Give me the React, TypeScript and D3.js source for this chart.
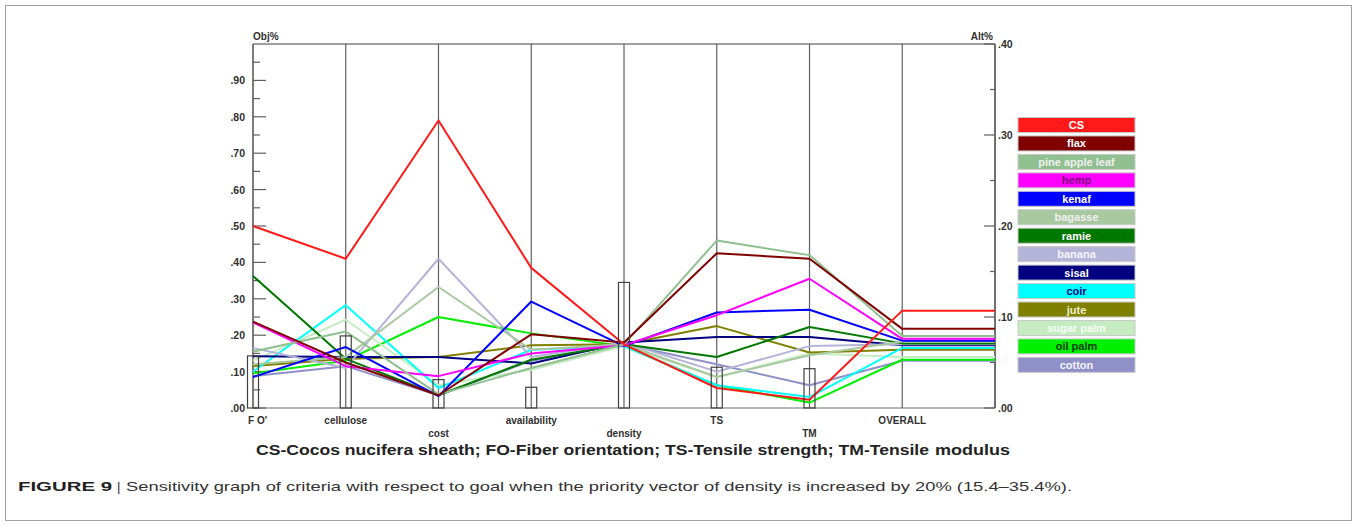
import React from "react";
import * as d3 from "d3";

const criteria = ["F O'", "cellulose", "cost", "availability", "density", "TS", "TM", "OVERALL"];
const criteriaLow = [false, false, true, false, true, false, true, false];
const priorities = [0.143, 0.198, 0.078, 0.057, 0.345, 0.112, 0.108];

const alternatives = ["CS", "flax", "pine apple leaf", "hemp", "kenaf", "bagasse", "ramie", "banana", "sisal", "coir", "jute", "sugar palm", "oil palm", "cotton"];
const lineColors = ["#ff1a1a", "#800000", "#90c090", "#ff00ff", "#0000ff", "#a8c8a0", "#007800", "#b4b4d8", "#000080", "#00ffff", "#808000", "#c4ecc0", "#00f000", "#9090c8"];
const textColors = ["#ffffff", "#ffffff", "#f0f0f0", "#800080", "#ffffff", "#f0f0f0", "#ffffff", "#f4f4ff", "#ffffff", "#000080", "#f0f0d0", "#f4fff4", "#004000", "#f4f4ff"];

// Alt% values (0 - 0.4) at FO, cellulose, cost, availability, density, TS, TM, OVERALL
const CS = [0.200, 0.164, 0.316, 0.154, 0.070, 0.022, 0.009, 0.107];
const flax = [0.095, 0.050, 0.014, 0.081, 0.072, 0.170, 0.164, 0.087];
const pineAppleLeaf = [0.062, 0.084, 0.015, 0.044, 0.070, 0.184, 0.168, 0.079];
const hemp = [0.094, 0.046, 0.035, 0.060, 0.069, 0.102, 0.142, 0.076];
const kenaf = [0.034, 0.067, 0.013, 0.117, 0.068, 0.105, 0.108, 0.074];
const bagasse = [0.048, 0.056, 0.133, 0.064, 0.070, 0.034, 0.058, 0.073];
const ramie = [0.145, 0.054, 0.014, 0.053, 0.070, 0.056, 0.089, 0.071];
const banana = [0.066, 0.044, 0.164, 0.056, 0.072, 0.040, 0.068, 0.070];
const sisal = [0.057, 0.056, 0.056, 0.049, 0.072, 0.078, 0.078, 0.069];
const coir = [0.040, 0.113, 0.022, 0.064, 0.068, 0.025, 0.012, 0.066];
const jute = [0.046, 0.054, 0.056, 0.069, 0.070, 0.090, 0.061, 0.064];
const sugarPalm = [0.052, 0.097, 0.025, 0.042, 0.068, 0.034, 0.060, 0.056];
const oilPalm = [0.038, 0.052, 0.100, 0.082, 0.068, 0.025, 0.006, 0.053];
const cotton = [0.035, 0.046, 0.014, 0.052, 0.070, 0.048, 0.025, 0.052];

const seriesValues = [CS, flax, pineAppleLeaf, hemp, kenaf, bagasse, ramie, banana, sisal, coir, jute, sugarPalm, oilPalm, cotton];

const objTicks = [0, 0.1, 0.2, 0.3, 0.4, 0.5, 0.6, 0.7, 0.8, 0.9];
const altTicks = [0, 0.1, 0.2, 0.3, 0.4];

const FONT = "'Liberation Sans', Arial, sans-serif";

export default function App() {
  const x = d3.scaleLinear().domain([0, 8]).range([253, 995]);
  const yObj = d3.scaleLinear().domain([0, 1]).range([408, 44]);
  const yAlt = d3.scaleLinear().domain([0, 0.4]).range([408, 44]);
  const fmt = (v: number) => d3.format(".2f")(v).replace(/^0/, "");

  const line = d3
    .line<[number, number]>()
    .x((d) => d[0])
    .y((d) => d[1]);

  const order = d3.range(alternatives.length).reverse();

  return (
    <svg width={1357} height={527} style={{ position: "absolute", left: 0, top: 0, background: "#fff" }} fontFamily={FONT}>
      <rect x={5.5} y={5.5} width={1346} height={515} fill="none" stroke="#a0a0a0" strokeWidth={1} />

      {/* frame */}
      <line x1={x(0)} x2={x(8)} y1={44} y2={44} stroke="#404040" strokeWidth={1.2} />
      <line x1={x(0)} x2={x(8)} y1={408} y2={408} stroke="#707070" strokeWidth={1.2} />

      {/* criterion verticals */}
      {criteria.map((c, i) => (
        <line key={c} x1={x(i)} x2={x(i)} y1={44} y2={408} stroke={i === 0 ? "#505050" : "#606060"} strokeWidth={i === 0 ? 1.5 : 1.2} />
      ))}
      <line x1={x(8)} x2={x(8)} y1={44} y2={408} stroke="#404040" strokeWidth={1.5} />

      {/* left axis ticks */}
      {d3.range(0, 20).map((k) => {
        const v = k * 0.05;
        const major = k % 2 === 0;
        return <line key={"lt" + k} x1={x(0)} x2={x(0) + (major ? 13 : 7)} y1={yObj(v)} y2={yObj(v)} stroke="#606060" strokeWidth={1.2} />;
      })}
      {objTicks.map((t) => (
        <text key={"ol" + t} x={245} y={yObj(t) + 4} textAnchor="end" fontSize={10.5} fontWeight="bold" fill="#303030">
          {fmt(t)}
        </text>
      ))}
      <text x={253} y={40} fontSize={10} fontWeight="bold" fill="#303030">Obj%</text>

      {/* right axis ticks */}
      {d3.range(0, 9).map((k) => {
        const v = k * 0.05;
        const major = k % 2 === 0;
        return <line key={"rt" + k} x1={x(8) - (major ? 11 : 5)} x2={x(8)} y1={yAlt(v)} y2={yAlt(v)} stroke="#606060" strokeWidth={1.2} />;
      })}
      {altTicks.map((t) => (
        <text key={"al" + t} x={998} y={yAlt(t) + 4} fontSize={10.5} fontWeight="bold" fill="#303030">
          {fmt(t)}
        </text>
      ))}
      <text x={993} y={40} textAnchor="end" fontSize={10} fontWeight="bold" fill="#303030">Alt%</text>

      {/* series lines */}
      {order.map((si) => {
        const vals = seriesValues[si];
        const pts: [number, number][] = vals.map((v, i) => [x(i), yAlt(v)]);
        pts.push([x(8), yAlt(vals[vals.length - 1])]);
        return <path key={"s" + si} d={line(pts) || ""} fill="none" stroke={lineColors[si]} strokeWidth={2} strokeLinejoin="round" />;
      })}

      {/* priority bars */}
      {priorities.map((p, i) => (
        <rect key={"b" + i} x={x(i) - 5.5} y={yObj(p)} width={11} height={408 - yObj(p)} fill="none" stroke="#404040" strokeWidth={1.2} />
      ))}

      {/* criterion labels */}
      {criteria.map((c, i) => (
        <text key={"cl" + c} x={i === 0 ? x(i) - 5 : x(i)} y={criteriaLow[i] ? 437 : 424} textAnchor={i === 0 ? "start" : "middle"} fontSize={10} fontWeight="bold" fill="#303030">
          {c}
        </text>
      ))}

      {/* subtitle */}
      <text x={256} y={455} fontSize={15} fontWeight="bold" fill="#222" textLength={673} lengthAdjust="spacingAndGlyphs">
        CS-Cocos nucifera sheath; FO-Fiber orientation; TS-Tensile strength; TM-Tensile
      </text>
      <text x={935} y={455} fontSize={15} fontWeight="bold" fill="#222" textLength={75} lengthAdjust="spacingAndGlyphs">
        modulus
      </text>

      {/* legend */}
      {alternatives.map((a, i) => {
        const y0 = 117.5 + i * 18.45;
        return (
          <g key={"lg" + a}>
            <rect x={1018} y={y0} width={117} height={15} fill={lineColors[i]} stroke="#c8c8c8" strokeWidth={1} />
            <text x={1076.5} y={y0 + 11.5} textAnchor="middle" fontSize={11} fontWeight="bold" fill={textColors[i]}>
              {a}
            </text>
          </g>
        );
      })}

      {/* caption */}
      <text x={18} y={491} fontSize={13} fontWeight="bold" fill="#222" textLength={94} lengthAdjust="spacingAndGlyphs">FIGURE 9</text>
      <text x={117} y={491} fontSize={13} fill="#222">|</text>
      <text x={126} y={491} fontSize={13} fill="#333" textLength={946} lengthAdjust="spacingAndGlyphs">
        Sensitivity graph of criteria with respect to goal when the priority vector of density is increased by 20% (15.4–35.4%).
      </text>
    </svg>
  );
}
